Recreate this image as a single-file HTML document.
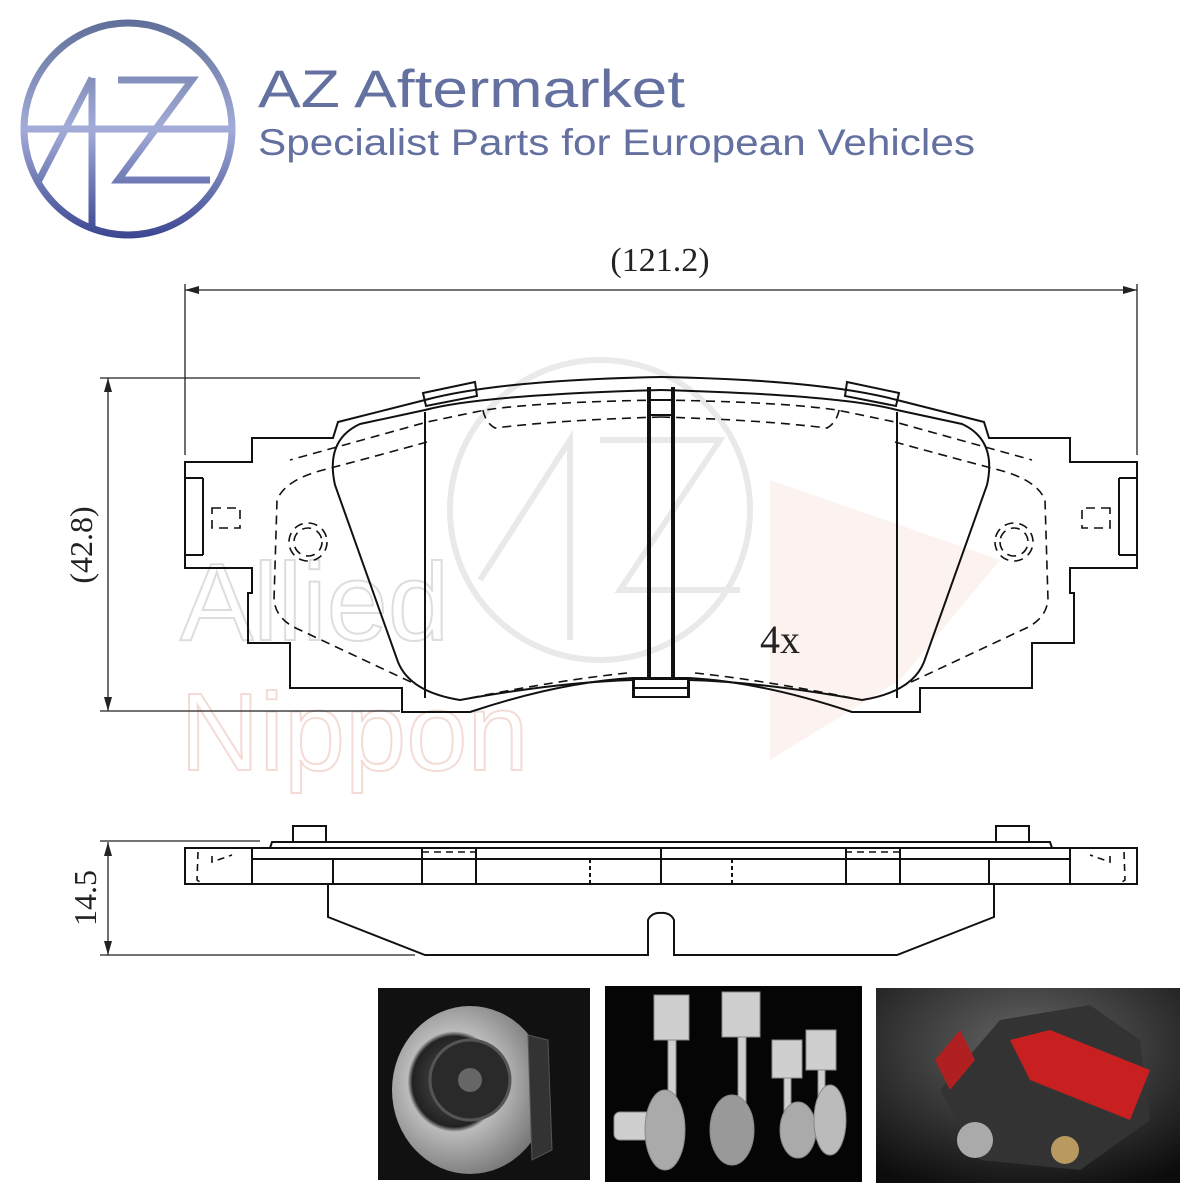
<!DOCTYPE html>
<html><head><meta charset="utf-8"><style>
html,body{margin:0;padding:0;background:#fff;width:1200px;height:1200px;overflow:hidden}
svg{display:block}
</style></head><body>
<svg width="1200" height="1200" viewBox="0 0 1200 1200" xmlns="http://www.w3.org/2000/svg">
<defs>
<linearGradient id="lg" gradientUnits="userSpaceOnUse" x1="0" y1="20" x2="0" y2="238">
<stop offset="0" stop-color="#5f6f98"/><stop offset="0.5" stop-color="#a3acd8"/><stop offset="1" stop-color="#3a4690"/>
</linearGradient>
<radialGradient id="disc" cx="0.4" cy="0.45" r="0.6"><stop offset="0" stop-color="#555"/><stop offset="0.45" stop-color="#222"/><stop offset="0.5" stop-color="#bbb"/><stop offset="1" stop-color="#777"/></radialGradient>
<radialGradient id="eng" cx="0.5" cy="0.3" r="0.8"><stop offset="0" stop-color="#666"/><stop offset="1" stop-color="#0c0c0c"/></radialGradient>
</defs>

<!-- Logo -->
<g stroke="url(#lg)" fill="none" stroke-width="7">
<ellipse cx="128" cy="129" rx="104" ry="106"/>
<line x1="26" y1="129" x2="230" y2="129"/>
<line x1="92" y1="78" x2="92" y2="230"/>
<polyline points="38,182 92,78"/>
<polyline points="118,80 192,80 118,180 210,180"/>
</g>
<text x="258" y="107" font-family="Liberation Sans, sans-serif" font-size="53" fill="#6370a0" textLength="427" lengthAdjust="spacingAndGlyphs">AZ Aftermarket</text>
<text x="258" y="155" font-family="Liberation Sans, sans-serif" font-size="37" fill="#6370a0" textLength="717" lengthAdjust="spacingAndGlyphs">Specialist Parts for European Vehicles</text>

<!-- watermark -->
<g opacity="0.18" fill="none" stroke="#888" stroke-width="6">
<circle cx="600" cy="510" r="150"/>
<polyline points="480,580 570,440 570,640"/>
<polyline points="600,440 720,440 620,590 740,590"/>
</g>
<text x="180" y="640" font-family="Liberation Sans, sans-serif" font-size="110" fill="none" stroke="#ddd" stroke-width="2">Allied</text>
<text x="180" y="770" font-family="Liberation Sans, sans-serif" font-size="110" fill="none" stroke="#f4dcd6" stroke-width="2">Nippon</text>
<path d="M770,760 L770,480 L1000,560 L900,680 Z" fill="#fbece8" opacity="0.7"/>

<!-- dimension lines -->
<g stroke="#222" stroke-width="1.3" fill="none">
<line x1="185" y1="290" x2="1137" y2="290"/>
<line x1="185" y1="284" x2="185" y2="455"/>
<line x1="1137" y1="284" x2="1137" y2="455"/>
<line x1="108" y1="378" x2="108" y2="711"/>
<line x1="100" y1="378" x2="420" y2="378"/>
<line x1="100" y1="711" x2="400" y2="711"/>
<line x1="108" y1="842" x2="108" y2="955"/>
<line x1="100" y1="841" x2="260" y2="841"/>
<line x1="100" y1="955" x2="415" y2="955"/>
</g>
<g fill="#222">
<path d="M185,290 l14,-4 v8z"/><path d="M1137,290 l-14,-4 v8z"/>
<path d="M108,378 l-4,14 h8z"/><path d="M108,711 l-4,-14 h8z"/>
<path d="M108,842 l-4,14 h8z"/><path d="M108,955 l-4,-14 h8z"/>
</g>
<text x="660" y="271" text-anchor="middle" font-family="Liberation Serif, serif" font-size="34" fill="#222">(121.2)</text>
<text transform="translate(92,545) rotate(-90)" text-anchor="middle" font-family="Liberation Serif, serif" font-size="32" fill="#222">(42.8)</text>
<text transform="translate(96,898) rotate(-90)" text-anchor="middle" font-family="Liberation Serif, serif" font-size="32" fill="#222">14.5</text>
<text x="760" y="653" font-family="Liberation Serif, serif" font-size="40" fill="#222">4x</text>

<!-- top view half, mirrored -->
<g id="half" fill="none" stroke="#111" stroke-width="2">
<path d="M661,377 Q500,380 425,400 L338,422 L333,438 L252,438 L252,462 L185,462 L185,568 L252,568 L252,593 L248,593 L248,643 L290,643 L290,688 L402,688 L402,712 L470,712 Q560,682 633,678 L661,678"/>
<path d="M661,390 Q480,395 425,410 L360,424 Q325,440 335,485 L398,662 Q410,692 460,700 Q560,682 633,680"/>
<line x1="425" y1="412" x2="425" y2="698"/>
<line x1="648" y1="387" x2="648" y2="680"/>
<line x1="672" y1="387" x2="672" y2="680"/>
<line x1="648" y1="400" x2="672" y2="400"/>
<line x1="648" y1="415" x2="672" y2="415"/>
<rect x="633" y="679" width="55" height="18"/>
<line x1="633" y1="688" x2="688" y2="688"/>
<path d="M423,393 L475,382 L477,396 L426,406 Z"/>
<line x1="203" y1="478" x2="203" y2="555"/>
<path d="M185,478 L203,478 M185,555 L203,555"/>
<g stroke-dasharray="9,6" stroke-width="1.6">
<path d="M661,400 Q540,402 485,410 L427,422 L290,460"/>
<path d="M661,417 Q560,420 495,428 Q484,422 482,405"/>
<path d="M427,442 Q380,455 323,470 Q285,480 277,500 L274,600 Q276,620 300,630 L413,683"/>
<path d="M470,698 Q560,680 627,673"/>
<circle cx="308" cy="542" r="19"/>
<circle cx="308" cy="542" r="14"/>
<rect x="212" y="508" width="28" height="20"/>
</g>
</g>
<use href="#half" transform="translate(1322,0) scale(-1,1)"/>

<!-- side view -->
<g id="side" fill="none" stroke="#111" stroke-width="2">
<rect x="185" y="848" width="476" height="36"/>
<line x1="252" y1="859" x2="661" y2="859"/>
<path d="M270,848 L272,842 L661,842"/>
<rect x="293" y="826" width="33" height="16"/>
<line x1="252" y1="848" x2="252" y2="884"/>
<line x1="333" y1="859" x2="333" y2="884"/>
<line x1="422" y1="848" x2="422" y2="884"/>
<line x1="476" y1="848" x2="476" y2="884"/>
<line x1="590" y1="859" x2="590" y2="884" stroke-dasharray="4,3"/>
<path d="M328,884 L328,917 L425,955 L648,955 L648,920 A12,12 0 0 1 661,913" />
<g stroke-dasharray="7,5" stroke-width="1.6">
<line x1="422" y1="852" x2="476" y2="852"/><line x1="422" y1="859" x2="476" y2="859"/>
<path d="M198,852 L197,880 L203,884"/><path d="M212,856 L212,862 L232,855"/>
</g>
</g>
<use href="#side" transform="translate(1322,0) scale(-1,1)"/>

<!-- photos -->
<rect x="378" y="988" width="212" height="192" fill="#111"/>
<ellipse cx="470" cy="1090" rx="78" ry="84" fill="url(#disc)"/>
<circle cx="470" cy="1080" r="40" fill="#2a2a2a" stroke="#555" stroke-width="3"/>
<circle cx="470" cy="1080" r="12" fill="#666"/>
<path d="M528,1035 L548,1040 L552,1150 L532,1160 Z" fill="#333" stroke="#555"/>
<rect x="605" y="986" width="257" height="196" fill="#050505"/>
<g fill="#cfcfcf" stroke="#888">
<rect x="654" y="995" width="35" height="45"/><rect x="722" y="992" width="38" height="45"/>
<rect x="772" y="1040" width="30" height="38"/><rect x="806" y="1030" width="30" height="40"/>
<rect x="668" y="1040" width="8" height="80"/><rect x="738" y="1037" width="8" height="80"/>
<rect x="784" y="1078" width="7" height="60"/><rect x="818" y="1070" width="7" height="60"/>
<rect x="614" y="1112" width="60" height="28" rx="6"/>
<ellipse cx="665" cy="1130" rx="20" ry="40" fill="#aaa"/>
<ellipse cx="732" cy="1130" rx="22" ry="35" fill="#999"/>
<ellipse cx="798" cy="1130" rx="18" ry="28" fill="#aaa"/>
<ellipse cx="830" cy="1120" rx="16" ry="35" fill="#bbb"/>
</g>
<rect x="876" y="988" width="304" height="195" fill="url(#eng)"/>
<path d="M940,1090 L1000,1020 L1090,1005 L1140,1040 L1150,1120 L1080,1170 L980,1160 Z" fill="#333"/>
<path d="M1010,1040 L1050,1030 L1150,1070 L1130,1120 L1030,1080 Z" fill="#c82020"/>
<path d="M935,1060 L960,1030 L975,1060 L950,1090 Z" fill="#b02020"/>
<circle cx="975" cy="1140" r="18" fill="#aaa"/>
<circle cx="1065" cy="1150" r="14" fill="#b89a60"/>
</svg>
</body></html>
